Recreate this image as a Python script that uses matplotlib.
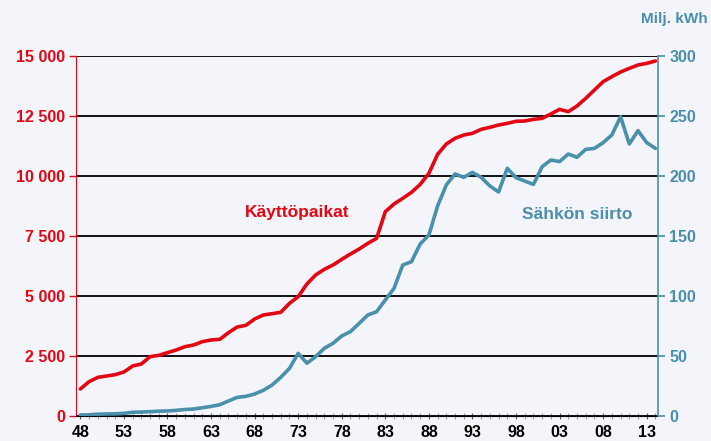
import matplotlib
matplotlib.use("Agg")
import matplotlib.pyplot as plt
from matplotlib.ticker import MultipleLocator, FuncFormatter

years = list(range(1948, 2015))

# Käyttöpaikat (left axis)
kayttopaikat = [
    1125, 1430, 1610, 1665, 1722, 1833, 2083, 2167, 2472, 2528,
    2639, 2750, 2889, 2958, 3097, 3167, 3194, 3472, 3708, 3778,
    4042, 4208, 4264, 4319, 4694, 4972, 5500, 5875, 6111, 6292,
    6528, 6750, 6958, 7194, 7403, 8514, 8833, 9069, 9319, 9650,
    10111, 10903, 11333, 11569, 11708, 11778, 11944, 12028, 12125, 12194,
    12278, 12292, 12361, 12403, 12583, 12778, 12681, 12917, 13236, 13583,
    13931, 14139, 14333, 14486, 14625, 14694, 14792,
]

# Sähkön siirto, milj. kWh (right axis)
sahkon_siirto = [
    0.8, 1.0, 1.5, 1.7, 1.8, 2.2, 3.1, 3.3, 3.6, 4.0,
    4.2, 4.7, 5.4, 5.8, 6.9, 8.0, 9.4, 12.5, 15.5, 16.4,
    18.3, 21.4, 25.8, 32.2, 39.7, 52.2, 44.0, 49.4, 56.4, 60.6,
    66.7, 70.3, 77.2, 84.2, 86.9, 96.7, 106.4, 125.8, 128.6, 143.3,
    150.8, 175.0, 192.5, 201.7, 198.9, 203.0, 198.9, 191.7, 186.7, 206.4,
    198.6, 195.8, 193.0, 207.8, 213.3, 212.0, 218.3, 215.6, 222.2, 223.0,
    227.8, 234.2, 249.4, 226.7, 237.8, 227.8, 223.0,
]

RED = "#e30613"
TEAL = "#4a8fab"
FONT = "Liberation Sans"

fig = plt.figure(figsize=(7.11, 4.41), dpi=100, facecolor="#f3f5fa")
ax = fig.add_axes([0.1069, 0.0567, 0.8186, 0.8163])
ax.set_facecolor("none")
ax2 = ax.twinx()

ax.plot(years, kayttopaikat, color=RED, lw=2.6, zorder=5, solid_capstyle="round")
ax2.plot(years, sahkon_siirto, color=TEAL, lw=2.6, zorder=5, solid_capstyle="round")

ax.set_xlim(1947.5, 2014.3)
ax.set_ylim(0, 15000)
ax2.set_ylim(0, 300)

for v in range(0, 15001, 2500):
    ax.axhline(v, color="black", lw=1.3, zorder=2)

ax.yaxis.set_major_locator(MultipleLocator(2500))
ax.yaxis.set_major_formatter(FuncFormatter(lambda v, p: f"{int(v):,}".replace(",", " ")))
ax2.yaxis.set_major_locator(MultipleLocator(50))

ax.xaxis.set_minor_locator(MultipleLocator(1))
ax.set_xticks(range(1948, 2015, 5))
ax.xaxis.set_major_formatter(FuncFormatter(lambda v, p: f"{int(v) % 100:02d}"))

ax.spines["top"].set_visible(False)
ax2.spines["top"].set_visible(False)
ax.spines["left"].set_color(RED)
ax.spines["bottom"].set_color("black")
ax.spines["right"].set_visible(False)
ax2.spines["left"].set_visible(False)
ax2.spines["bottom"].set_visible(False)
ax2.spines["right"].set_color(TEAL)
ax2.spines["right"].set_linewidth(1.2)

ax.tick_params(axis="y", colors=RED, length=5, width=1.0, pad=3)
ax2.tick_params(axis="y", colors=TEAL, length=5, width=1.2, pad=3)
ax.tick_params(axis="x", which="major", length=5, direction="inout", colors="#555555",
               labelcolor="black", pad=4)
ax.tick_params(axis="x", which="minor", length=5, direction="inout", colors="#888888")

for lab in ax.get_yticklabels() + ax2.get_yticklabels() + ax.get_xticklabels():
    lab.set_fontfamily(FONT)
    lab.set_fontweight("bold")
    lab.set_fontsize(11.5)

ax.text(1972.9, 8460, "Käyttöpaikat", color=RED, fontsize=12.5, fontweight="bold",
        family=FONT, ha="center", va="center")
ax2.text(2005.0, 168, "Sähkön siirto", color=TEAL, fontsize=12.5, fontweight="bold",
         family=FONT, ha="center", va="center")
fig.text(0.949, 0.958, "Milj. kWh", color=TEAL, fontsize=11, fontweight="bold",
         family=FONT, ha="center", va="center")

fig.savefig("out.png", dpi=100, facecolor=fig.get_facecolor())
